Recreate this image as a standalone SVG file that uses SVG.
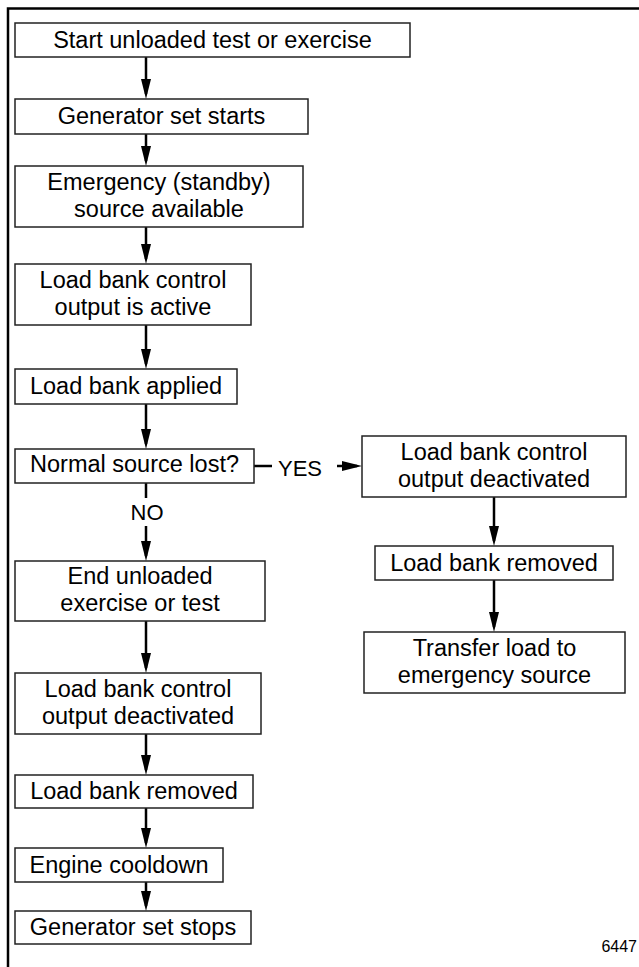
<svg xmlns="http://www.w3.org/2000/svg" width="639" height="967" viewBox="0 0 639 967">
<style>
.box{fill:#fff;stroke:#222;stroke-width:1.5}
.t{font-family:"Liberation Sans",Arial,sans-serif;font-size:23.5px;fill:#000;text-anchor:middle}
.lbl{font-family:"Liberation Sans",Arial,sans-serif;font-size:22px;fill:#000;text-anchor:middle}
.c{fill:none;stroke:#000;stroke-width:2.5}
</style>
<defs>
<marker id="ah" markerUnits="userSpaceOnUse" markerWidth="20" markerHeight="10" refX="15" refY="5" orient="auto">
<path d="M0,0 L20,5 L0,10 z" fill="#000"/>
</marker>
</defs>
<path d="M8 967 V8.5 H639" fill="none" stroke="#000" stroke-width="2.5"/>
<g id="connectors">
<path class="c" d="M146 57 V94" marker-end="url(#ah)"/>
<path class="c" d="M146 134 V161" marker-end="url(#ah)"/>
<path class="c" d="M146 227 V259" marker-end="url(#ah)"/>
<path class="c" d="M146 325 V364" marker-end="url(#ah)"/>
<path class="c" d="M146 404 V444" marker-end="url(#ah)"/>
<path class="c" d="M146 483 V498"/>
<path class="c" d="M146 526 V556" marker-end="url(#ah)"/>
<path class="c" d="M146 621 V668" marker-end="url(#ah)"/>
<path class="c" d="M146 734 V770" marker-end="url(#ah)"/>
<path class="c" d="M146 808 V843" marker-end="url(#ah)"/>
<path class="c" d="M146 882 V906" marker-end="url(#ah)"/>
<path class="c" d="M254 466 H272"/>
<path class="c" d="M337 466 H357" marker-end="url(#ah)"/>
<path class="c" d="M494 497 V541" marker-end="url(#ah)"/>
<path class="c" d="M494 580 V627" marker-end="url(#ah)"/>
<text class="lbl" x="300" y="476">YES</text>
<text class="lbl" x="147" y="520">NO</text>
</g>
<g id="n1"><rect class="box" x="15" y="23" width="395" height="34"/><text class="t" x="212.5" y="48">Start unloaded test or exercise</text></g>
<g id="n2"><rect class="box" x="15" y="99" width="293" height="35"/><text class="t" x="161.5" y="124">Generator set starts</text></g>
<g id="n3"><rect class="box" x="15" y="166" width="288" height="61"/><text class="t" x="159" y="190">Emergency (standby)</text><text class="t" x="159" y="217">source available</text></g>
<g id="n4"><rect class="box" x="15" y="264" width="236" height="61"/><text class="t" x="133" y="288">Load bank control</text><text class="t" x="133" y="315">output is active</text></g>
<g id="n5"><rect class="box" x="15" y="369" width="222" height="35"/><text class="t" x="126" y="394">Load bank applied</text></g>
<g id="n6"><rect class="box" x="15" y="449" width="239" height="34"/><text class="t" x="134.5" y="472">Normal source lost?</text></g>
<g id="n7"><rect class="box" x="362" y="436" width="264" height="61"/><text class="t" x="494" y="460">Load bank control</text><text class="t" x="494" y="487">output deactivated</text></g>
<g id="n8"><rect class="box" x="375" y="546" width="238" height="34"/><text class="t" x="494" y="571">Load bank removed</text></g>
<g id="n9"><rect class="box" x="364" y="632" width="261" height="61"/><text class="t" x="494.5" y="656">Transfer load to</text><text class="t" x="494.5" y="683">emergency source</text></g>
<g id="n10"><rect class="box" x="15" y="561" width="250" height="60"/><text class="t" x="140" y="584">End unloaded</text><text class="t" x="140" y="611">exercise or test</text></g>
<g id="n11"><rect class="box" x="15" y="673" width="246" height="61"/><text class="t" x="138" y="697">Load bank control</text><text class="t" x="138" y="724">output deactivated</text></g>
<g id="n12"><rect class="box" x="15" y="775" width="238" height="33"/><text class="t" x="134" y="799">Load bank removed</text></g>
<g id="n13"><rect class="box" x="15" y="848" width="208" height="34"/><text class="t" x="119" y="873">Engine cooldown</text></g>
<g id="n14"><rect class="box" x="15" y="911" width="236" height="33"/><text class="t" x="133" y="935">Generator set stops</text></g>
<text x="637" y="952" font-family="Liberation Sans, Arial, sans-serif" font-size="16" text-anchor="end">6447</text>
</svg>
